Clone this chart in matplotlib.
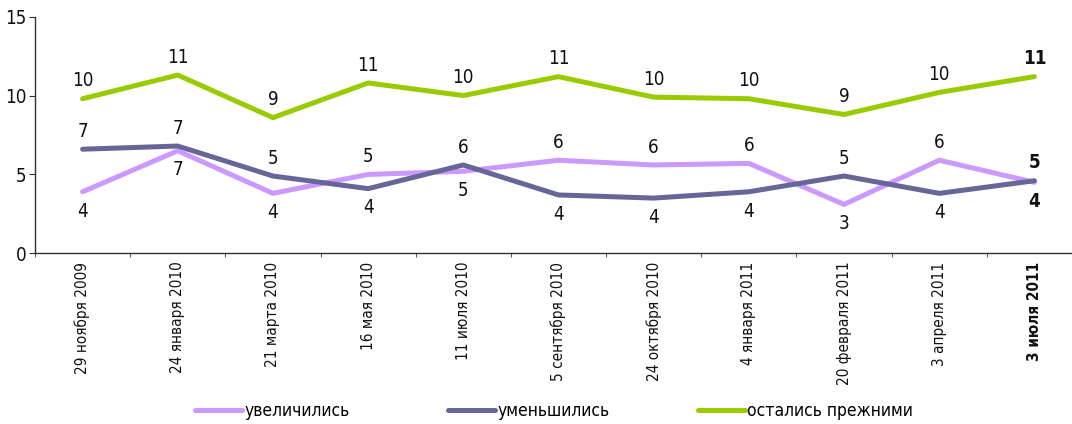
import matplotlib
matplotlib.use('Agg')
import matplotlib.pyplot as plt
import numpy as np

# survey dates (x categories)
dates = ['29 ноября 2009', '24 января 2010', '21 марта 2010', '16 мая 2010',
         '11 июля 2010', '5 сентября 2010', '24 октября 2010', '4 января 2011',
         '20 февраля 2011', '3 апреля 2011', '3 июля 2011']

# series values
increased = [3.9, 6.5, 3.8, 5.0, 5.2, 5.9, 5.6, 5.7, 3.1, 5.9, 4.5]
decreased = [6.6, 6.8, 4.9, 4.1, 5.6, 3.7, 3.5, 3.9, 4.9, 3.8, 4.6]
unchanged = [9.8, 11.3, 8.6, 10.8, 10.0, 11.2, 9.9, 9.8, 8.8, 10.2, 11.2]

# labels as printed on the chart
increased_lbl = ['4', '7', '4', '5', '5', '6', '6', '6', '3', '6', '4']
decreased_lbl = ['7', '7', '5', '4', '6', '4', '4', '4', '5', '4', '5']
unchanged_lbl = ['10', '11', '9', '11', '10', '11', '10', '10', '9', '10', '11']

series_names = ['увеличились', 'уменьшились', 'остались прежними']
colors = ['#CC99FF', '#666699', '#99CC00']

plt.rcParams['font.family'] = ['DejaVu Sans']
plt.rcParams['font.stretch'] = 'condensed'

fig = plt.figure(figsize=(10.72, 4.24), dpi=100)
ax = fig.add_axes([35 / 1072, 1 - 253.3 / 424, 1047 / 1072, 236.6 / 424])

x = np.arange(len(dates))
series = [increased, decreased, unchanged]
lines = []
for vals, c, name in zip(series, colors, series_names):
    ln, = ax.plot(x, vals, color=c, lw=3.6, solid_capstyle='round',
                  solid_joinstyle='round', label=name)
    lines.append(ln)

last = len(dates) - 1
lbl_kw = dict(textcoords='offset points', ha='center', fontsize=13.5,
              color='#111111', fontstretch='condensed')
for i in x:
    weight = 'bold' if i == last else 'normal'
    # green always above
    ax.annotate(unchanged_lbl[i], (i, unchanged[i]), xytext=(0, 6),
                va='bottom', fontweight=weight, **lbl_kw)
    # the higher of the two other series gets its label above, the lower below
    if increased[i] >= decreased[i]:
        hi, lo = (increased, increased_lbl), (decreased, decreased_lbl)
    else:
        hi, lo = (decreased, decreased_lbl), (increased, increased_lbl)
    ax.annotate(hi[1][i], (i, hi[0][i]), xytext=(0, 6),
                va='bottom', fontweight=weight, **lbl_kw)
    ax.annotate(lo[1][i], (i, lo[0][i]), xytext=(0, -7),
                va='top', fontweight=weight, **lbl_kw)

ax.set_xlim(-0.5, len(dates) - 0.5)
ax.set_ylim(0, 15)
ax.set_yticks([0, 5, 10, 15])
ax.tick_params(axis='y', length=4, labelsize=13.5, colors='#333333', labelcolor='#111111', pad=2)

ax.set_xticks(x)
ax.set_xticklabels(dates, rotation=90, fontsize=11, color='#111111')
ax.get_xticklabels()[last].set_fontweight('bold')
ax.tick_params(axis='x', which='major', length=0, pad=6)
ax.set_xticks(np.arange(len(dates) + 1) - 0.5, minor=True)
ax.tick_params(axis='x', which='minor', length=3, colors='#333333')

for side in ['top', 'right']:
    ax.spines[side].set_visible(False)
for side in ['left', 'bottom']:
    ax.spines[side].set_color('#333333')
    ax.spines[side].set_linewidth(1.0)

# one legend per entry, placed where the reference has them
legend_x = [195, 448, 698]
for ln, lx in zip(lines, legend_x):
    fig.legend(handles=[ln], loc='center left', bbox_to_anchor=(lx / 1072, 1 - 411 / 424),
               frameon=False, fontsize=12.5, handlelength=2.7, borderpad=0,
               borderaxespad=0, handletextpad=0.15)

fig.savefig('out.png', dpi=100)
